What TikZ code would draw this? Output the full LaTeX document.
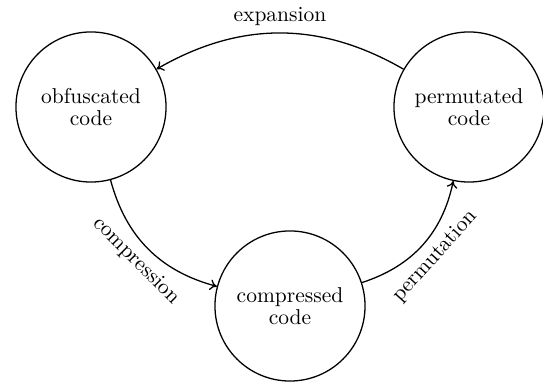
\documentclass[tikz,border=0pt]{standalone}
\usetikzlibrary{arrows.meta}
\begin{document}
\begin{tikzpicture}[x=0.4651pt,y=0.4651pt,
  state/.style={draw,circle,minimum size=69.8pt,inner sep=0pt,align=center,semithick},
  conn/.style={-{To[length=3.2pt,width=5pt]},semithick,bend right=30}]
\useasboundingbox (0,0) rectangle (543,384);
\node[state] (obf) at (91,277) {obfuscated\\[-2pt]code};
\node[state] (perm) at (469,277) {permutated\\[-2pt]code};
\node[state] (comp) at (290,78) {compressed\\[-2pt]code};
\draw[conn] (perm) to node[above] {expansion} (obf);
\draw[conn] (obf) to node[sloped,below] {compression} (comp);
\draw[conn] (comp) to node[sloped,below] {permutation} (perm);
\end{tikzpicture}
\end{document}
